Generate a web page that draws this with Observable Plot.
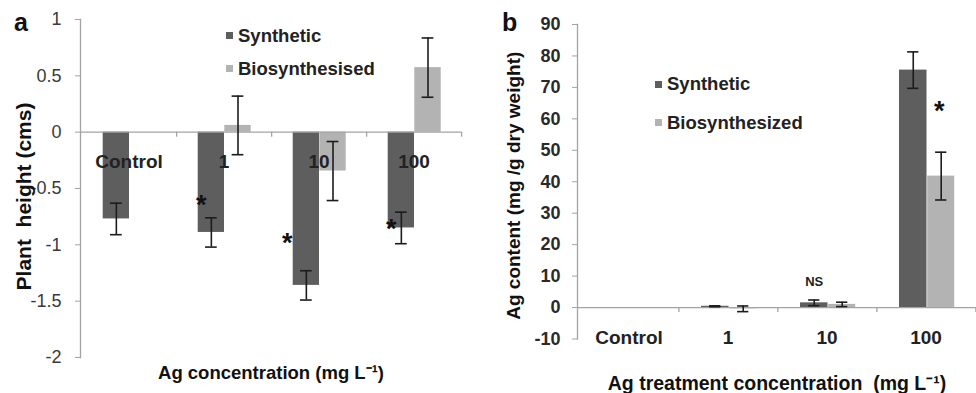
<!DOCTYPE html>
<html>
<head>
<meta charset="utf-8">
<script src="https://cdn.jsdelivr.net/npm/d3@7"></script>
<script src="https://cdn.jsdelivr.net/npm/@observablehq/plot@0.6"></script>
<style>
  html, body { margin: 0; padding: 0; background: #fff; }
  #wrap { position: relative; width: 976px; height: 393px; font-family: "Liberation Sans", Arial, sans-serif; overflow: hidden; }
  .panel { position: absolute; top: 0; }
  .tag { position: absolute; font-weight: bold; font-size: 25px; color: #111; line-height: 1; }
  .leg { position: absolute; display: flex; align-items: center; height: 22px; font-weight: bold; font-size: 18.5px; color: #222; white-space: nowrap; }
  .leg i { display: inline-block; width: 7px; height: 7px; margin-right: 5px; }
</style>
</head>
<body>
<div id="wrap"></div>
<script>
// ---------- data ----------
const categories = ["Control", "1", "10", "100"];
const seriesNames = ["Synthetic", "Biosynthesised"];
const seriesNamesB = ["Synthetic", "Biosynthesized"];

// Panel a: plant height (cms)
const synA = [-0.77, -0.89, -1.36, -0.85];
const synErrA = [0.14, 0.13, 0.13, 0.14];
const bioA = [0, 0.06, -0.345, 0.573];
const bioErrA = [null, 0.26, 0.262, 0.263];
const yTicksA = [-2, -1.5, -1, -0.5, 0, 0.5, 1];
const starCatsA = ["1", "10", "100"];
const starYA = [-0.59, -0.925, -0.80];

// Panel b: Ag content (mg/g dry weight)
const synB = [0, 0.4, 1.5, 75.5];
const synErrB = [null, 0.15, 0.9, 5.8];
const bioB = [0, -0.4, 1.0, 41.8];
const bioErrB = [null, 0.9, 0.7, 7.6];
const yTicksB = [-10, 0, 10, 20, 30, 40, 50, 60, 70, 80, 90];
const starCatsB = ["100"];
const starYB = [64.5];
const nsCatsB = ["10"];
const nsYB = [8.1];

const colS = "#5e5e5e";
const colB = "#b3b3b3";
const axisCol = "#a3a3a3";
const errCol = "#1c1c1c";
const font = "Liberation Sans, Arial, sans-serif";

function rows(vals, errs) {
  return categories.map((c, i) => ({cat: c, v: vals[i], e: errs[i]}));
}

function panel(o) {
  const plotW = o.width - o.ml - o.mr;
  const plotH = o.height - o.mt - o.mb;
  const bw = plotW / categories.length;
  const pxPerUnit = plotH / (o.ydom[1] - o.ydom[0]);
  const tickLen = 5 / pxPerUnit;
  const dS = rows(o.syn, o.synErr);
  const dB = rows(o.bio, o.bioErr);
  const eS = dS.filter(d => d.e != null);
  const eB = dB.filter(d => d.e != null);
  const dxS = (o.insS[0] - o.insS[1]) / 2;
  const dxB = (o.insB[0] - o.insB[1]) / 2;
  const capHalf = 6;
  const capIns = dx => ({insetLeft: bw / 2 + dx - capHalf, insetRight: bw / 2 - dx - capHalf});
  const errMarks = (data, dx) => [
    Plot.ruleX(data, {x: "cat", y1: d => d.v - d.e, y2: d => d.v + d.e, dx, stroke: errCol, strokeWidth: 1.6}),
    Plot.tickY(data, {x: "cat", y: d => d.v + d.e, ...capIns(dx), stroke: errCol, strokeWidth: 1.6}),
    Plot.tickY(data, {x: "cat", y: d => d.v - d.e, ...capIns(dx), stroke: errCol, strokeWidth: 1.6})
  ];
  return Plot.plot({
    width: o.width, height: o.height,
    marginLeft: o.ml, marginRight: o.mr, marginTop: o.mt, marginBottom: o.mb,
    style: {fontFamily: font, background: "transparent", overflow: "visible"},
    x: {domain: categories, padding: 0, axis: null},
    y: {domain: o.ydom, axis: null},
    marks: [
      Plot.barY(dS, {x: "cat", y: "v", fill: colS, insetLeft: o.insS[0], insetRight: o.insS[1]}),
      Plot.barY(dB, {x: "cat", y: "v", fill: colB, insetLeft: o.insB[0], insetRight: o.insB[1]}),
      Plot.ruleY([0], {stroke: axisCol, strokeWidth: 1.3}),
      Plot.ruleX(categories, {x: d => d, dx: bw / 2, y1: 0, y2: -tickLen, stroke: axisCol, strokeWidth: 1.3}),
      Plot.frame({anchor: "left", stroke: axisCol, strokeWidth: 1.3}),
      Plot.axisY({ticks: o.yticks, tickFormat: d => String(d), tickSize: 5, tickPadding: o.tickPad,
        stroke: axisCol, fill: o.tickFill, fontSize: o.tickFont, fontWeight: o.tickWeight, label: null}),
      ...errMarks(eS, dxS),
      ...errMarks(eB, dxB),
      Plot.text(categories, {x: d => d, y: o.catY, dy: o.catDy, text: d => d, fontSize: 19, fontWeight: "bold", fill: "#222", lineAnchor: "middle"}),
      ...o.extra(dxS, dxB),
      Plot.text([o.ylabel], {frameAnchor: "left", textAnchor: "middle", dx: o.ylabDx, dy: o.ylabDy, rotate: -90, fontSize: o.ylabFont, fontWeight: "bold", fill: "#111", lineAnchor: "middle"}),
      Plot.text([o.xlabel], {frameAnchor: "bottom", textAnchor: "middle", dy: o.xlabDy, fontSize: o.xlabFont, fontWeight: "bold", fill: "#111", lineAnchor: "middle"})
    ]
  });
}

const starText = (cats, ys, dx) => Plot.text(cats.map((c, i) => ({cat: c, y: ys[i]})),
  {x: "cat", y: "y", text: () => "*", dx, dy: 7, fontSize: 27, fontWeight: "bold", fill: "#111", lineAnchor: "middle"});

const svgA = panel({
  width: 490, height: 393, ml: 80, mr: 29, mt: 19, mb: 36,
  ydom: [-2, 1], yticks: yTicksA, tickPad: 14, tickFill: "#3a3a3a", tickFont: 18, tickWeight: "normal",
  syn: synA, synErr: synErrA, bio: bioA, bioErr: bioErrA,
  insS: [21.7, 47], insB: [48.3, 20.3],
  catY: 0, catDy: 30,
  ylabel: "Plant\u00A0 height (cms)", ylabDx: -56, ylabDy: 8, ylabFont: 21,
  xlabel: "Ag concentration (mg L\u207B\u00B9)", xlabDy: 16, xlabFont: 18.5,
  extra: (dxS) => [
    starText(starCatsA.filter(c => c !== "10"), starYA.filter((_, i) => starCatsA[i] !== "10"), dxS - 10),
    starText(["10"], [starYA[starCatsA.indexOf("10")]], dxS - 19)
  ]
});

const svgB = panel({
  width: 486, height: 393, ml: 87, mr: 0, mt: 24, mb: 54.5,
  ydom: [-10, 90], yticks: yTicksB, tickPad: 12, tickFill: "#2a2a2a", tickFont: 18, tickWeight: "bold",
  syn: synB, synErr: synErrB, bio: bioB, bioErr: bioErrB,
  insS: [23, 48.5], insB: [51.2, 20.8],
  catY: -10, catDy: -1,
  ylabel: "Ag content (mg /g dry weight)", ylabDx: -64, ylabDy: 4, ylabFont: 19,
  xlabel: "Ag treatment concentration  (mg L\u207B\u00B9)", xlabDy: 44.5, xlabFont: 19.5,
  extra: (dxS, dxB) => [
    starText(starCatsB, starYB, dxB - 2),
    Plot.text(nsCatsB.map((c, i) => ({cat: c, y: nsYB[i]})), {x: "cat", y: "y", text: () => "NS", dx: dxS, fontSize: 13, fontWeight: "bold", fill: "#222", lineAnchor: "middle"})
  ]
});

const wrap = document.getElementById("wrap");
const pa = document.createElement("div"); pa.className = "panel"; pa.style.left = "0px"; pa.appendChild(svgA);
const pb = document.createElement("div"); pb.className = "panel"; pb.style.left = "490px"; pb.appendChild(svgB);
wrap.appendChild(pa); wrap.appendChild(pb);

function tag(t, x, y) {
  const d = document.createElement("div"); d.className = "tag"; d.textContent = t;
  d.style.left = x + "px"; d.style.top = y + "px"; wrap.appendChild(d);
}
tag("a", 14, 10);
tag("b", 502, 10);

function legend(names, x, ys) {
  names.forEach((n, i) => {
    const d = document.createElement("div"); d.className = "leg";
    d.style.left = x + "px"; d.style.top = (ys[i] - 11) + "px";
    const sq = document.createElement("i"); sq.style.background = i === 0 ? colS : colB;
    d.appendChild(sq); d.appendChild(document.createTextNode(n));
    wrap.appendChild(d);
  });
}
legend(seriesNames, 226, [35.5, 68.5]);
legend(seriesNamesB, 655, [84, 122.5]);
</script>
</body>
</html>
